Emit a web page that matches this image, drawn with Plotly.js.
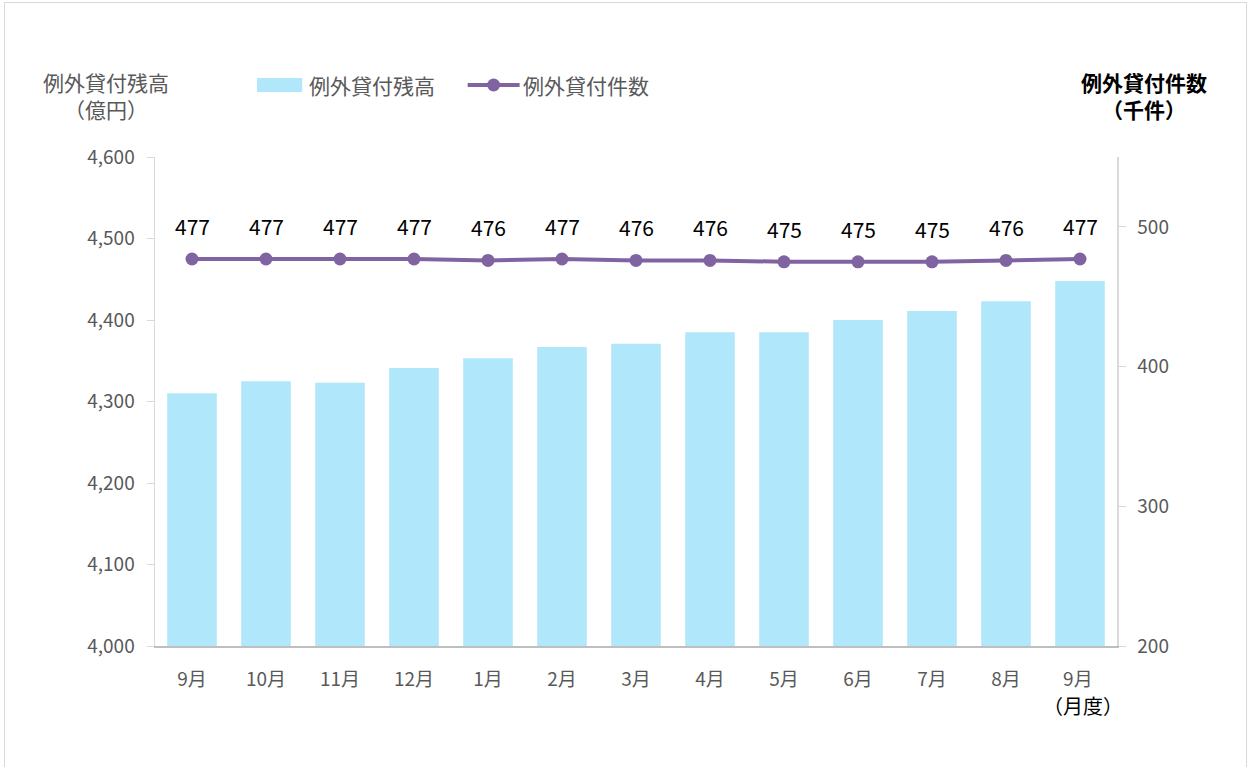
<!DOCTYPE html>
<html>
<head>
<meta charset="utf-8">
<script src="https://cdn.plot.ly/plotly-3.0.1.min.js"></script>
<style>
html,body{margin:0;padding:0;background:#fff;overflow:hidden;}
#wrap{position:relative;width:1251px;height:767px;}
#chart{width:1251px;height:767px;}
#frame{position:absolute;left:4px;top:2px;width:1243px;height:780px;border:1px solid #d9d9d9;pointer-events:none;box-sizing:border-box;}
</style>
</head>
<body>
<div id="wrap"><div id="chart"></div><div id="frame"></div></div>
<script>
const categories = ["9月","10月","11月","12月","1月","2月","3月","4月","5月","6月","7月","8月","9月 "];
const balance = [4310, 4325, 4323, 4341, 4353, 4367, 4371, 4385, 4385, 4400, 4411, 4423, 4448];
const counts = [477, 477, 477, 477, 476, 477, 476, 476, 475, 475, 475, 476, 477];
const countLabels = ["477","477","477","477","476","477","476","476","475","475","475","476","477"];
const barName = "例外貸付残高";
const lineName = "例外貸付件数";
const leftTitle = ["例外貸付残高", "（億円）"];
const rightTitle = ["例外貸付件数", "（千件）"];
const xUnit = "（月度）";

const FONT = "'Noto Sans CJK JP', 'Noto Sans', sans-serif";
const GRAY = "#595959";
const BAR = "#b0e7fa";
const LINE = "#8064a2";

const traces = [
  {
    type: "bar", name: barName, x: categories, y: balance,
    marker: {color: BAR}, yaxis: "y", hoverinfo: "skip"
  },
  {
    type: "scatter", mode: "lines+markers", name: lineName, x: categories, y: counts,
    yaxis: "y2", line: {color: LINE, width: 4},
    marker: {color: LINE, size: 13}, hoverinfo: "skip"
  }
];

const annotations = categories.map((c, i) => ({
  x: c, y: counts[i], xref: "x", yref: "y2", text: countLabels[i],
  showarrow: false, yshift: 33, font: {family: FONT, size: 21, color: "#000"}
}));
annotations.push(
  {xref: "paper", yref: "paper", x: -0.051, y: 1.125, text: leftTitle.join("<br>"), showarrow: false,
   xanchor: "center", yanchor: "middle", font: {family: FONT, size: 21, color: GRAY}},
  {xref: "paper", yref: "paper", x: 1.028, y: 1.125, text: rightTitle.map(t => "<b>" + t + "</b>").join("<br>"), showarrow: false,
   xanchor: "center", yanchor: "middle", font: {family: FONT, size: 21, color: "#000"}},
  {xref: "paper", yref: "paper", x: 0.9647, y: -0.1207, text: xUnit, showarrow: false,
   xanchor: "center", yanchor: "middle", font: {family: FONT, size: 20, color: "#000"}},
  {xref: "paper", yref: "paper", x: 0.158, y: 1.1472, text: barName, showarrow: false,
   xanchor: "left", yanchor: "middle", font: {family: FONT, size: 21, color: GRAY}},
  {xref: "paper", yref: "paper", x: 0.3805, y: 1.1472, text: lineName, showarrow: false,
   xanchor: "left", yanchor: "middle", font: {family: FONT, size: 21, color: GRAY}}
);

const shapes = [
  {type: "rect", xref: "paper", yref: "paper", x0: 0.106, x1: 0.153, y0: 1.133, y1: 1.1616,
   fillcolor: BAR, line: {width: 0}},
  {type: "line", xref: "paper", yref: "paper", x0: 0.325, x1: 0.379, y0: 1.1472, y1: 1.1472,
   line: {color: LINE, width: 4}},
  {type: "circle", xref: "paper", yref: "paper", xsizemode: "pixel", ysizemode: "pixel",
   xanchor: 0.352, yanchor: 1.1472, x0: -6.5, x1: 6.5, y0: -6.5, y1: 6.5,
   fillcolor: LINE, line: {width: 0}}
];

const layout = {
  width: 1251, height: 767,
  margin: {l: 155, r: 134, t: 157, b: 121},
  paper_bgcolor: "#fff", plot_bgcolor: "#fff",
  font: {family: FONT, color: GRAY},
  bargap: 0.33,
  showlegend: false,
  xaxis: {
    type: "category", range: [-0.5, 12.5], showgrid: false, zeroline: false,
    showline: true, linecolor: "#bfbfbf", linewidth: 2,
    ticks: "", tickfont: {family: FONT, size: 19, color: GRAY}, ticklabelstandoff: 15
  },
  yaxis: {
    range: [4000, 4600], dtick: 100, tickformat: ",", showgrid: false, zeroline: false,
    showline: true, linecolor: "#d9d9d9", linewidth: 1.5,
    ticks: "outside", ticklen: 7, tickcolor: "#d9d9d9",
    tickfont: {family: FONT, size: 19, color: GRAY}, ticklabelstandoff: 8
  },
  yaxis2: {
    overlaying: "y", side: "right", range: [200, 550], tickvals: [200, 300, 400, 500],
    showgrid: false, zeroline: false,
    showline: true, linecolor: "#d9d9d9", linewidth: 1.5,
    ticks: "outside", ticklen: 7, tickcolor: "#d9d9d9",
    tickfont: {family: FONT, size: 19, color: GRAY}, ticklabelstandoff: 8
  },
  annotations: annotations,
  shapes: shapes
};

Plotly.newPlot("chart", traces, layout, {staticPlot: true, displayModeBar: false});
</script>
</body>
</html>
